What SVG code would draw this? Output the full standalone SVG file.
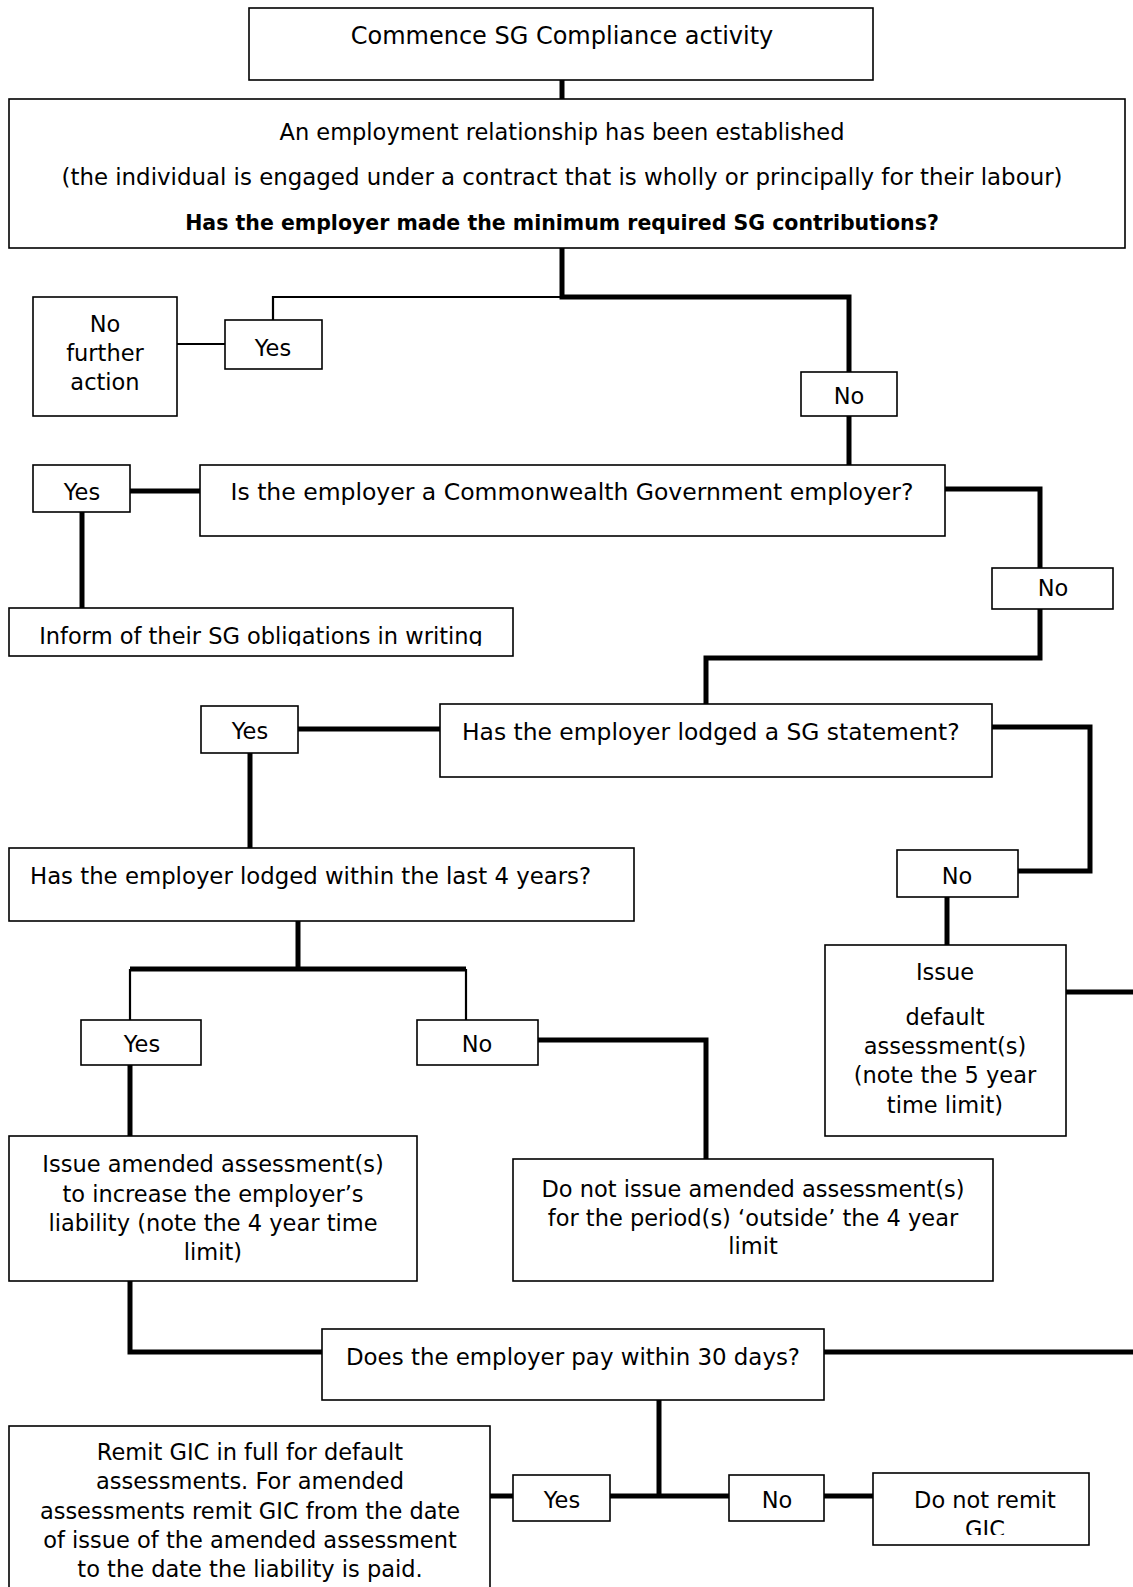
<svg xmlns="http://www.w3.org/2000/svg" width="1133" height="1587" viewBox="0 0 1133 1587">
<style>
.box{fill:#fff;stroke:#000;stroke-width:1.6}
.t{font-family:"DejaVu Sans","Liberation Sans",sans-serif;font-size:22.5px;fill:#000;text-anchor:middle}
.l{text-anchor:start}
.b{font-weight:bold;font-size:20.5px}
.thick{fill:none;stroke:#000;stroke-width:5;stroke-linejoin:miter}
.thin{fill:none;stroke:#000;stroke-width:2.2}
</style>
<defs>
<clipPath id="cInform"><rect x="9" y="608" width="504" height="38"/></clipPath>
<clipPath id="cGic"><rect x="873" y="1473" width="216" height="62"/></clipPath>
</defs>
<rect width="1133" height="1587" fill="#fff"/>
<g id="connectors">
<path class="thick" d="M562 80V99"/>
<path class="thick" d="M562 248V297H849V372"/>
<path class="thin" d="M562 297H273V320"/>
<path class="thin" d="M177 344H225"/>
<path class="thick" d="M849 416V465"/>
<path class="thick" d="M130 491H200"/>
<path class="thick" d="M82 512V608"/>
<path class="thick" d="M945 489H1040V568"/>
<path class="thick" d="M1040 609V658H706V704"/>
<path class="thick" d="M298 729H440"/>
<path class="thick" d="M250 753V848"/>
<path class="thick" d="M992 727H1090V871H1018"/>
<path class="thick" d="M947 897V945"/>
<path class="thick" d="M1066 992H1133"/>
<path class="thick" d="M298 921V969"/>
<path class="thick" d="M130 969H466"/>
<path class="thin" d="M130 969V1020M466 969V1020"/>
<path class="thick" d="M538 1040H706V1159"/>
<path class="thick" d="M130 1065V1136"/>
<path class="thick" d="M130 1281V1352H322"/>
<path class="thick" d="M824 1352H1133"/>
<path class="thick" d="M659 1400V1496"/>
<path class="thick" d="M490 1496H513M610 1496H729M824 1496H873"/>
</g>
<g id="n-commence"><rect class="box" x="249" y="8" width="624" height="72"/><text class="t" x="562" y="44" style="font-size:24px">Commence SG Compliance activity</text></g>
<g id="n-employment"><rect class="box" x="9" y="99" width="1116" height="149"/>
<text class="t" x="562" y="140">An employment relationship has been established</text>
<text class="t" x="562" y="185" style="font-size:22.9px">(the individual is engaged under a contract that is wholly or principally for their labour)</text>
<text class="t b" x="562" y="230">Has the employer made the minimum required SG contributions?</text></g>
<g id="n-yes1"><rect class="box" x="225" y="320" width="97" height="49"/><text class="t" x="273" y="356">Yes</text></g>
<g id="n-nfa"><rect class="box" x="33" y="297" width="144" height="119"/>
<text class="t" x="105" y="332">No</text><text class="t" x="105" y="361">further</text><text class="t" x="105" y="390">action</text></g>
<g id="n-no1"><rect class="box" x="801" y="372" width="96" height="44"/><text class="t" x="849" y="404">No</text></g>
<g id="n-commonwealth"><rect class="box" x="200" y="465" width="745" height="71"/><text class="t" x="572" y="500" style="font-size:23.5px">Is the employer a Commonwealth Government employer?</text></g>
<g id="n-yes2"><rect class="box" x="33" y="465" width="97" height="47"/><text class="t" x="82" y="500">Yes</text></g>
<g id="n-inform"><rect class="box" x="9" y="608" width="504" height="48"/><text class="t" x="261" y="644" clip-path="url(#cInform)">Inform of their SG obligations in writing</text></g>
<g id="n-no2"><rect class="box" x="992" y="568" width="121" height="41"/><text class="t" x="1053" y="596">No</text></g>
<g id="n-sgstatement"><rect class="box" x="440" y="704" width="552" height="73"/><text class="t l" x="462" y="740" style="font-size:23.4px">Has the employer lodged a SG statement?</text></g>
<g id="n-yes3"><rect class="box" x="201" y="706" width="97" height="47"/><text class="t" x="250" y="739">Yes</text></g>
<g id="n-no3"><rect class="box" x="897" y="850" width="121" height="47"/><text class="t" x="957" y="884">No</text></g>
<g id="n-default"><rect class="box" x="825" y="945" width="241" height="191"/>
<text class="t" x="945" y="980">Issue</text><text class="t" x="945" y="1025">default</text><text class="t" x="945" y="1054">assessment(s)</text><text class="t" x="945" y="1083">(note the 5 year</text><text class="t" x="945" y="1113">time limit)</text></g>
<g id="n-lodged4"><rect class="box" x="9" y="848" width="625" height="73"/><text class="t l" x="30" y="884" style="font-size:22.8px">Has the employer lodged within the last 4 years?</text></g>
<g id="n-yes4"><rect class="box" x="81" y="1020" width="120" height="45"/><text class="t" x="142" y="1052">Yes</text></g>
<g id="n-no4"><rect class="box" x="417" y="1020" width="121" height="45"/><text class="t" x="477" y="1052">No</text></g>
<g id="n-donotissue"><rect class="box" x="513" y="1159" width="480" height="122"/>
<text class="t" x="753" y="1197">Do not issue amended assessment(s)</text><text class="t" x="753" y="1226">for the period(s) ‘outside’ the 4 year</text><text class="t" x="753" y="1254">limit</text></g>
<g id="n-amended"><rect class="box" x="9" y="1136" width="408" height="145"/>
<text class="t" x="213" y="1172">Issue amended assessment(s)</text><text class="t" x="213" y="1202">to increase the employer’s</text><text class="t" x="213" y="1231">liability (note the 4 year time</text><text class="t" x="213" y="1260">limit)</text></g>
<g id="n-pay"><rect class="box" x="322" y="1329" width="502" height="71"/><text class="t" x="573" y="1365" style="font-size:22.9px">Does the employer pay within 30 days?</text></g>
<g id="n-yes5"><rect class="box" x="513" y="1475" width="97" height="46"/><text class="t" x="562" y="1508">Yes</text></g>
<g id="n-no5"><rect class="box" x="729" y="1475" width="95" height="46"/><text class="t" x="777" y="1508">No</text></g>
<g id="n-donotremit"><rect class="box" x="873" y="1473" width="216" height="72"/>
<text class="t" x="985" y="1508">Do not remit</text><text class="t" x="985" y="1537" clip-path="url(#cGic)">GIC</text></g>
<g id="n-remit"><rect class="box" x="9" y="1426" width="481" height="170"/>
<text class="t" x="250" y="1460">Remit GIC in full for default</text><text class="t" x="250" y="1489">assessments. For amended</text><text class="t" x="250" y="1519">assessments remit GIC from the date</text><text class="t" x="250" y="1548">of issue of the amended assessment</text><text class="t" x="250" y="1577">to the date the liability is paid.</text></g>
</svg>
